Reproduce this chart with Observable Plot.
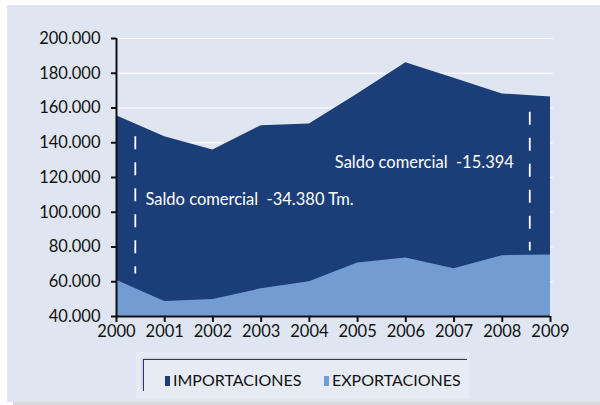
<!DOCTYPE html>
<html>
<head>
<meta charset="utf-8">
<script src="https://cdn.jsdelivr.net/npm/d3@7"></script>
<script src="https://cdn.jsdelivr.net/npm/@observablehq/plot@0.6"></script>
<style>
  html, body { margin: 0; padding: 0; background: #ffffff; }
  body { width: 600px; height: 405px; position: relative; overflow: hidden; font-family: Lato, "Open Sans", sans-serif; }
  #shadow { position: absolute; left: 13px; top: 402px; width: 587px; height: 4px; background: #d9d9d9; }
  #panel { position: absolute; left: 7px; top: 5px; width: 593px; height: 397px; background: #dfe6f2; }
  #chart { position: absolute; left: 0; top: 0; }
  #legend { position: absolute; left: 136px; top: 352px; width: 333px; height: 47px; background: #e6ebf5; }
  #legend .frame { position: absolute; left: 7px; top: 7px; width: 323px; height: 31px; border-top: 1.5px solid #1f3d73; border-left: 1.5px solid #1f3d73; box-shadow: -1px -1px 2px rgba(0,0,0,0.15); }
  #legend .item { position: absolute; top: 19px; font-size: 16px; color: #111; line-height: 17px; white-space: nowrap; }
  #legend .sw { display: inline-block; width: 5px; height: 10px; margin-right: 3px; vertical-align: 0px; }
</style>
</head>
<body>
<div id="shadow"></div>
<div id="panel"></div>
<div id="chart"></div>
<div id="legend">
  <div class="frame"></div>
  <div class="item" id="li0" style="left:29px"></div>
  <div class="item" id="li1" style="left:188px"></div>
</div>
<script>
// ---- data ----
const years = [2000, 2001, 2002, 2003, 2004, 2005, 2006, 2007, 2008, 2009];
const importaciones = [155600, 143400, 135800, 149800, 150800, 168100, 186100, 177100, 168100, 166300];
const exportaciones = [60800, 48700, 49800, 55900, 60000, 70800, 73600, 67500, 75000, 75400];
const yTicks = [40000, 60000, 80000, 100000, 120000, 140000, 160000, 180000, 200000];
const seriesNames = ["IMPORTACIONES", "EXPORTACIONES"];
const seriesColors = ["#1b3d78", "#729cd2"];
// annotations
const annoLabels = ["Saldo comercial  -34.380 Tm.", "Saldo comercial  -15.394"];
const annoX = [2000.6, 2008.24];
const annoY = [107000, 128400];
const dashX = [2000.39, 2008.57];
const dashTop = [143400, 157500];
const dashBottom = [64400, 77700];

const table = years.map((y, i) => ({year: y, imp: importaciones[i], exp: exportaciones[i]}));
const annos = annoLabels.map((t, i) => ({text: t, x: annoX[i], y: annoY[i]}));
const dashes = dashX.map((x, i) => ({x, y1: dashTop[i], y2: dashBottom[i]}));

const loc = d3.formatLocale({decimal: ",", thousands: ".", grouping: [3], currency: ["", ""]});
const fmt = loc.format(",");
const base = 40000;
const FS = 16.5;

const chart = Plot.plot({
  width: 600,
  height: 405,
  marginLeft: 116,
  marginRight: 50,
  marginTop: 38,
  marginBottom: 89,
  style: {background: "transparent", fontFamily: "Lato, 'Open Sans', sans-serif", fontSize: FS + "px", color: "#111"},
  x: {domain: [2000, 2009]},
  y: {domain: [40000, 200000]},
  marks: [
    Plot.ruleY(yTicks.slice(1), {x1: 2000, x2: 2009.06, stroke: "#ffffff", strokeWidth: 1.2}),
    Plot.areaY(table, {x: "year", y1: () => base, y2: "imp", fill: seriesColors[0]}),
    Plot.areaY(table, {x: "year", y1: () => base, y2: "exp", fill: seriesColors[1]}),
    Plot.ruleX(dashes, {x: "x", y1: "y1", y2: "y2", stroke: "#ffffff", strokeWidth: 1.8, strokeDasharray: "13,13"}),
    Plot.text([annos[0]], {x: "x", y: "y", text: "text", textAnchor: "start", fill: "#ffffff", fontSize: FS}),
    Plot.text([annos[1]], {x: "x", y: "y", text: "text", textAnchor: "end", fill: "#ffffff", fontSize: FS}),
    Plot.axisY({ticks: yTicks, tickFormat: fmt, tickSize: 5, tickPadding: 11, strokeWidth: 2, stroke: "#111", fill: "#111", label: null, fontSize: FS}),
    Plot.axisX({ticks: years, tickFormat: (d) => String(d), tickSize: 6, tickPadding: 3, strokeWidth: 2, stroke: "#111", fill: "#111", label: null, fontSize: FS}),
    Plot.ruleX([2000], {stroke: "#111", strokeWidth: 2}),
    Plot.ruleY([40000], {stroke: "#111", strokeWidth: 2})
  ]
});
document.getElementById("chart").appendChild(chart);

seriesNames.forEach((n, i) => {
  const el = document.getElementById("li" + i);
  const sw = document.createElement("span");
  sw.className = "sw";
  sw.style.background = seriesColors[i];
  el.appendChild(sw);
  el.appendChild(document.createTextNode(n));
});
</script>
</body>
</html>
